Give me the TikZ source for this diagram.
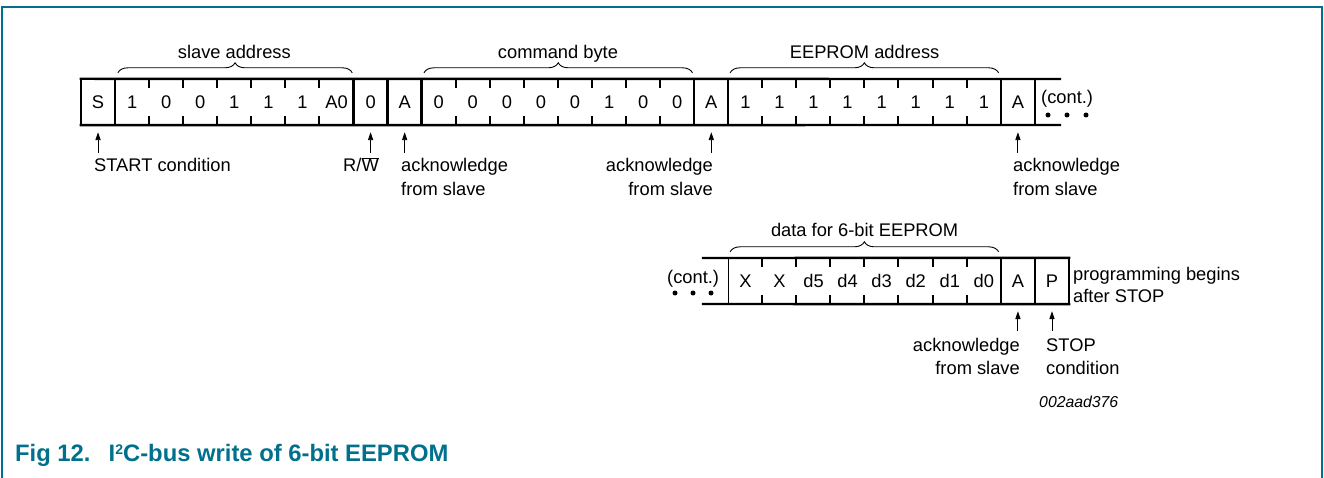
\documentclass[tikz,border=0pt]{standalone}
\usepackage{fontspec}
\setmainfont{Liberation Sans}
\usetikzlibrary{arrows.meta,decorations.pathreplacing,calc}
\definecolor{nxpteal}{RGB}{0,112,140}
\begin{document}
\begin{tikzpicture}[x=1pt,y=-1pt,
  celltext/.style={inner sep=0pt, minimum width=34.07pt, minimum height=46pt, font=\fontsize{18.3}{22}\selectfont},
  lbl/.style={inner sep=0pt, font=\fontsize{18.3}{22}\selectfont},
  idlbl/.style={inner sep=0pt, font=\fontsize{15.8}{19}\selectfont\itshape},
  caption/.style={inner sep=0pt, text=nxpteal, font=\fontsize{23.8}{28}\selectfont\bfseries},
  bus/.style={line width=2.4pt, line cap=rect},
  thinbus/.style={line width=1.2pt},
  tickline/.style={line width=2pt},
  uparrow/.style={line width=0.9pt, shorten >=7pt, -{Triangle[length=8pt,width=5.2pt]}},
  bracestyle/.style={decorate, decoration={brace, amplitude=10pt}, line width=0.9pt},
  dotmark/.style={circle, fill=black, inner sep=0pt, minimum size=5pt},
]
\useasboundingbox (0,0) rectangle (1324,478);
% frame
\draw[nxpteal, line width=1.5pt] (2,478) -- (2,7) -- (1322,7) -- (1322,478);

% ---------- top row ----------
\foreach \t [count=\i from 0] in {S,1,0,0,1,1,1,A0,0,A,0,0,0,0,0,1,0,0,A,1,1,1,1,1,1,1,1,A} {
  \node[celltext] (t\i) at ({81+(\i+0.5)*34.07},102) {\t};
}
\coordinate (tendN) at (1060,79);
\coordinate (tendS) at (1060,125);
\draw[bus] (t0.north west) -- (tendN);
\draw[bus] (t0.south west) -- (tendS);
\foreach \k in {0,1,8,9,10,18,19,27} {
  \draw[bus] (t\k.north west) -- (t\k.south west);
}
\draw[bus] (t27.north east) -- (t27.south east);
\foreach \k in {2,3,4,5,6,7,11,12,13,14,15,16,17,20,21,22,23,24,25,26} {
  \draw[tickline] (t\k.north west) -- ($(t\k.north west)+(0,9)$);
  \draw[tickline] (t\k.south west) -- ($(t\k.south west)+(0,-9)$);
}
% continuation
\node[lbl, anchor=base west] (contA) at (1041,104) {(cont.)};
\node[dotmark] (dA1) at (1048,115) {};
\node[dotmark] (dA2) at (1067,115) {};
\node[dotmark] (dA3) at (1086,115) {};

% braces and group labels
\draw[bracestyle] ($(t1.north west)+(3,-6)$) -- ($(t7.north east)+(-1.5,-6)$);
\node[lbl, anchor=base] (gsa) at ($(t1.north west)!0.5!(t7.north east)+(0,-20)$) {slave address};
\draw[bracestyle] ($(t10.north west)+(2.5,-6)$) -- ($(t17.north east)+(-2,-6)$);
\node[lbl, anchor=base] (gcb) at ($(t10.north west)!0.5!(t17.north east)+(0,-20)$) {command byte};
\draw[bracestyle] ($(t19.north west)+(2,-6)$) -- ($(t26.north east)+(-2.5,-6)$);
\node[lbl, anchor=base] (gea) at ($(t19.north west)!0.5!(t26.north east)+(0,-20)$) {EEPROM address};

% arrows and labels under top row
\coordinate (aS) at ($(t0.south)+(0,28)$);
\draw[uparrow] (aS) -- (t0.south);
\node[lbl, anchor=base west] (lS) at (94,172) {START condition};

\coordinate (aRW) at ($(t8.south)+(0,28)$);
\draw[uparrow] (aRW) -- (t8.south);
\node[lbl, anchor=base east] (lRW) at (379,172) {R/$\overline{\mbox{W}}$};

\coordinate (aA1) at ($(t9.south)+(0,28)$);
\draw[uparrow] (aA1) -- (t9.south);
\node[lbl, anchor=base west] (lA1a) at (401,172) {acknowledge};
\node[lbl, anchor=base west] (lA1b) at (401,196) {from slave};

\coordinate (aA2) at ($(t18.south)+(0,28)$);
\draw[uparrow] (aA2) -- (t18.south);
\node[lbl, anchor=base east] (lA2a) at (713,172) {acknowledge};
\node[lbl, anchor=base east] (lA2b) at (713,196) {from slave};

\coordinate (aA3) at ($(t27.south)+(0,28)$);
\draw[uparrow] (aA3) -- (t27.south);
\node[lbl, anchor=base west] (lA3a) at (1013,172) {acknowledge};
\node[lbl, anchor=base west] (lA3b) at (1013,196) {from slave};

% ---------- bottom row ----------
\foreach \t [count=\i from 0] in {X,X,d5,d4,d3,d2,d1,d0,A,P} {
  \node[celltext] (b\i) at ({81+(19+\i+0.5)*34.07},281) {\t};
}
\coordinate (bstartN) at (703,258);
\coordinate (bstartS) at (703,304);
\draw[bus] (bstartN) -- (b9.north east);
\draw[bus] (bstartS) -- (b9.south east);
\draw[thinbus] (b0.north west) -- (b0.south west);
\foreach \k in {8,9} {
  \draw[bus] (b\k.north west) -- (b\k.south west);
}
\draw[bus] (b9.north east) -- (b9.south east);
\foreach \k in {1,2,3,4,5,6,7} {
  \draw[tickline] (b\k.north west) -- ($(b\k.north west)+(0,9)$);
  \draw[tickline] (b\k.south west) -- ($(b\k.south west)+(0,-9)$);
}
\node[lbl, anchor=base west] (contB) at (667,283) {(cont.)};
\node[dotmark] (dB1) at (675,293) {};
\node[dotmark] (dB2) at (693,293) {};
\node[dotmark] (dB3) at (711,293) {};

\draw[bracestyle] ($(b0.north west)+(2,-6)$) -- ($(b7.north east)+(-2.5,-6)$);
\node[lbl, anchor=base] (gdata) at ($(b0.north west)!0.5!(b7.north east)+(0,-21)$) {data for 6-bit EEPROM};

\node[lbl, anchor=base west] (lprog1) at (1073,280) {programming begins};
\node[lbl, anchor=base west] (lprog2) at (1073,302) {after STOP};

\coordinate (aA4) at ($(b8.south)+(0,27)$);
\draw[uparrow] (aA4) -- (b8.south);
\node[lbl, anchor=base east] (lA4a) at (1020,351) {acknowledge};
\node[lbl, anchor=base east] (lA4b) at (1020,374) {from slave};

\coordinate (aP) at ($(b9.south)+(0,27)$);
\draw[uparrow] (aP) -- (b9.south);
\node[lbl, anchor=base west] (lPa) at (1046,351) {STOP};
\node[lbl, anchor=base west] (lPb) at (1046,374) {condition};

\node[idlbl, anchor=base west] (figid) at (1039,407) {002aad376};

% caption
\node[caption, anchor=base west] (cap1) at (15,461) {Fig 12.};
\node[caption, anchor=base west] (cap2) at (108.5,461) {I\raisebox{6.5pt}{\fontsize{14}{14}\selectfont 2}C-bus write of 6-bit EEPROM};
\end{tikzpicture}
\end{document}
